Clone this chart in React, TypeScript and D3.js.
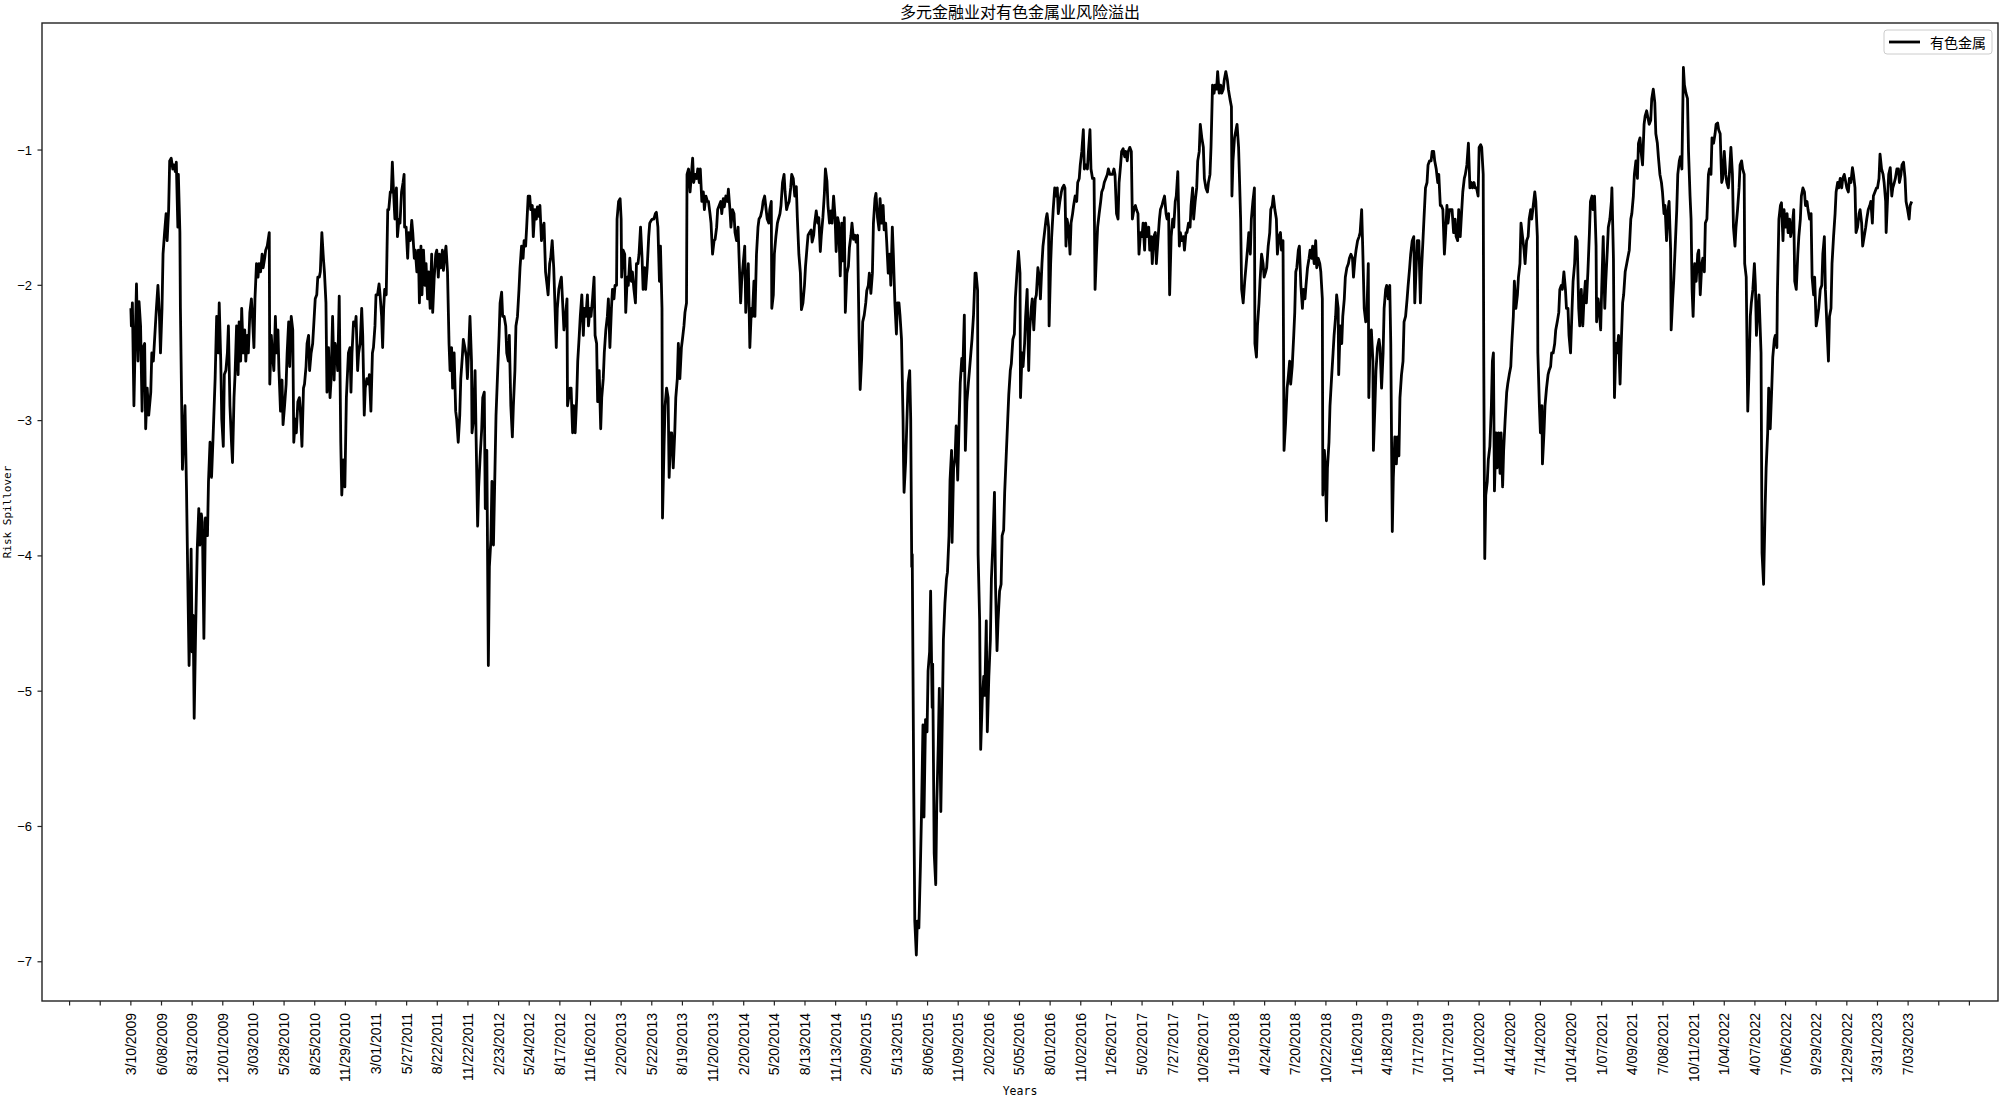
import React from "react";
import * as d3 from "d3";

// ---- tick labels (every 60 trading days, starting at day 0) ----
const dateLabels = [
  "3/10/2009","6/08/2009","8/31/2009","12/01/2009","3/03/2010","5/28/2010","8/25/2010","11/29/2010",
  "3/01/2011","5/27/2011","8/22/2011","11/22/2011","2/23/2012","5/24/2012","8/17/2012","11/16/2012",
  "2/20/2013","5/22/2013","8/19/2013","11/20/2013","2/20/2014","5/20/2014","8/13/2014","11/13/2014",
  "2/09/2015","5/13/2015","8/06/2015","11/09/2015","2/02/2016","5/05/2016","8/01/2016","11/02/2016",
  "1/26/2017","5/02/2017","7/27/2017","10/26/2017","1/19/2018","4/24/2018","7/20/2018","10/22/2018",
  "1/16/2019","4/18/2019","7/17/2019","10/17/2019","1/10/2020","4/14/2020","7/14/2020","10/14/2020",
  "1/07/2021","4/09/2021","7/08/2021","10/11/2021","1/04/2022","4/07/2022","7/06/2022","9/29/2022",
  "12/29/2022","3/31/2023","7/03/2023"
];
const yTicks = [-1, -2, -3, -4, -5, -6, -7];

// ---- series: [trading-day index, risk spillover] ----
const seg2009 = [[0,-2.17],[1,-2.30],[3,-2.13],[6,-2.89],[8,-2.50],[11,-1.99],[14,-2.56],[16,-2.12],[19,-2.30],[22,-2.93],[24,-2.46],[27,-2.43],[29,-3.06],[32,-2.76],[35,-2.96],[39,-2.79],[41,-2.50],[44,-2.56],[48,-2.30],[50,-2.17],[53,-2.00],[56,-2.23],[58,-2.50],[61,-2.17],[63,-1.77],[66,-1.61],[69,-1.47],[71,-1.67],[74,-1.44],[76,-1.08],[79,-1.06],[82,-1.14],[84,-1.11],[87,-1.16],[89,-1.09],[92,-1.57],[93,-1.18],[96,-1.61],[97,-2.17],[100,-3.03],[101,-3.36],[104,-3.09],[106,-2.89],[109,-3.52],[112,-4.31],[114,-4.81],[116,-4.44],[118,-3.95],[120,-4.71],[122,-4.44],[124,-5.20],[127,-4.51],[130,-3.95],[133,-3.65],[135,-3.92],[138,-3.69],[140,-3.75],[143,-4.61],[146,-3.72],[150,-3.85],[152,-3.45],[155,-3.16],[158,-3.42],[161,-3.12],[165,-2.69],[168,-2.23],[171,-2.50],[173,-2.13],[176,-2.56],[178,-2.99],[181,-3.19],[183,-2.66],[186,-2.63],[189,-2.50],[191,-2.30],[194,-2.89],[197,-3.16],[199,-3.31],[202,-2.83],[204,-2.66],[207,-2.30],[210,-2.66],[212,-2.27],[215,-2.56],[217,-2.17],[220,-2.50],[223,-2.33],[225,-2.56],[228,-2.37],[230,-2.50],[233,-2.20],[236,-2.10],[238,-2.23],[241,-2.46],[243,-2.10],[246,-1.84],[249,-1.94],[251,-1.84],[254,-1.90],[257,-1.77],[259,-1.87],[262,-1.80],[264,-1.74],[267,-1.71],[271,-1.61],[272,-2.73],[275,-2.37],[277,-2.50],[280,-2.63],[283,-2.23],[285,-2.50],[288,-2.33],[290,-2.63],[293,-2.93],[296,-2.70],[298,-3.03],[301,-2.89],[304,-2.73],[306,-2.50],[309,-2.27],[311,-2.60],[314,-2.23],[317,-2.33],[319,-3.16],[322,-2.99],[324,-3.09],[327,-2.86],[330,-2.83],[332,-2.93],[335,-3.19],[338,-2.76],[340,-2.73],[343,-2.60],[345,-2.43],[348,-2.37],[350,-2.63],[353,-2.50],[356,-2.43],[358,-2.30],[361,-2.10],[364,-2.07],[366,-1.94],[369,-1.94],[371,-1.90],[374,-1.61],[377,-1.80],[379,-1.90],[382,-2.13],[384,-2.79],[387,-2.46],[390,-2.83],[392,-2.70],[395,-2.23],[398,-2.70],[400,-2.43],[403,-2.50],[405,-2.63],[408,-2.08],[411,-3.16],[413,-3.55],[416,-3.29],[419,-3.49]];

const seg2011 = [[422,-2.83],[426,-2.50],[429,-2.46],[431,-2.79],[433,-2.50],[436,-2.27],[439,-2.30],[441,-2.23],[444,-2.63],[446,-2.50],[449,-2.43],[452,-2.17],[454,-2.37],[457,-2.96],[459,-2.76],[462,-2.69],[465,-2.73],[467,-2.66],[470,-2.93],[473,-2.50],[475,-2.46],[478,-2.30],[480,-2.07],[483,-2.07],[486,-1.99],[488,-2.07],[491,-2.23],[493,-2.46],[495,-2.17],[497,-2.03],[500,-2.07],[503,-1.44],[505,-1.44],[508,-1.31],[510,-1.31],[512,-1.09],[514,-1.28],[517,-1.51],[520,-1.28],[522,-1.64],[525,-1.51],[527,-1.54],[530,-1.31],[533,-1.24],[535,-1.18],[536,-1.57],[539,-1.57],[542,-1.80],[544,-1.61],[547,-1.67],[550,-1.52],[552,-1.61],[555,-1.80],[557,-1.74],[560,-1.90],[563,-1.74],[565,-2.13],[568,-1.71],[570,-2.07],[573,-1.74],[576,-2.00],[578,-1.84],[581,-2.10],[583,-1.90],[586,-2.17],[589,-1.77],[591,-2.20],[594,-1.94],[597,-1.77],[599,-1.74],[602,-1.94],[604,-1.77],[607,-1.87],[610,-1.74],[612,-1.89],[615,-1.77],[617,-1.71],[620,-1.90],[623,-2.43],[625,-2.63],[628,-2.46],[630,-2.76],[633,-2.50],[636,-2.93],[638,-2.99],[641,-3.16],[644,-2.96],[646,-2.69],[649,-2.53],[651,-2.40],[654,-2.46],[657,-2.53],[659,-2.69],[662,-2.43],[664,-2.23],[667,-2.56],[668,-3.09],[671,-2.99],[674,-2.63],[676,-3.12],[679,-3.78],[681,-3.49],[684,-3.26],[687,-3.06],[689,-2.83],[692,-2.79],[694,-3.65],[697,-3.22],[700,-4.81],[702,-4.08],[705,-3.88],[707,-3.45],[710,-3.92],[713,-3.35],[715,-2.96],[718,-2.66],[721,-2.37],[723,-2.13],[726,-2.05],[728,-2.23],[731,-2.23],[734,-2.30],[736,-2.50],[739,-2.56],[741,-2.37],[744,-2.89],[747,-3.12],[749,-2.89],[752,-2.63],[754,-2.30],[757,-2.23],[760,-2.03],[762,-1.87],[765,-1.71],[768,-1.80],[770,-1.67],[773,-1.71],[775,-1.57],[778,-1.34],[781,-1.34],[783,-1.44],[786,-1.41],[788,-1.64],[791,-1.44],[794,-1.51],[796,-1.42],[799,-1.49],[801,-1.41],[804,-1.67],[807,-1.57],[809,-1.54],[812,-1.90],[815,-2.00],[817,-2.07],[820,-1.84],[822,-1.80],[825,-1.67],[828,-1.87],[830,-2.10],[833,-2.46],[835,-2.17],[838,-2.03],[841,-1.97],[843,-1.94],[846,-2.17],[848,-2.33],[851,-2.23],[854,-2.10],[855,-2.89],[860,-2.76]];

const seg2013 = [[862,-2.76],[865,-3.09],[867,-2.89],[870,-3.09],[873,-2.83],[875,-2.56],[878,-2.37],[880,-2.23],[883,-2.07],[886,-2.37],[888,-2.17],[891,-2.23],[894,-2.07],[896,-2.30],[899,-2.17],[901,-2.23],[904,-2.10],[907,-1.94],[909,-2.37],[912,-2.43],[914,-2.86],[917,-2.63],[920,-3.06],[922,-2.83],[925,-2.69],[927,-2.50],[930,-2.33],[933,-2.23],[935,-2.10],[938,-2.46],[941,-2.17],[943,-2.03],[946,-2.10],[948,-2.00],[951,-2.00],[952,-1.51],[955,-1.38],[958,-1.36],[960,-1.51],[961,-1.94],[964,-1.74],[967,-1.77],[969,-2.20],[972,-1.94],[974,-2.00],[977,-1.80],[980,-1.97],[982,-1.90],[985,-2.03],[988,-2.13],[990,-1.84],[993,-1.84],[995,-1.77],[998,-1.57],[1001,-1.80],[1003,-2.03],[1006,-1.87],[1008,-2.03],[1011,-1.87],[1014,-1.64],[1016,-1.54],[1019,-1.52],[1021,-1.51],[1024,-1.51],[1027,-1.47],[1029,-1.46],[1032,-1.57],[1035,-1.97],[1037,-1.71],[1040,-2.17],[1041,-3.72],[1044,-3.19],[1046,-2.89],[1049,-2.76],[1052,-2.83],[1054,-3.42],[1057,-3.09],[1059,-3.09],[1062,-3.35],[1065,-3.09],[1067,-2.83],[1070,-2.69],[1072,-2.43],[1075,-2.69],[1078,-2.46],[1080,-2.40],[1083,-2.30],[1085,-2.20],[1088,-2.13],[1089,-1.18],[1092,-1.14],[1095,-1.31],[1097,-1.21],[1100,-1.06],[1102,-1.24],[1105,-1.18],[1108,-1.21],[1110,-1.14],[1113,-1.24],[1115,-1.14],[1118,-1.38],[1121,-1.31],[1123,-1.44],[1126,-1.34],[1129,-1.38],[1131,-1.38],[1134,-1.47],[1136,-1.54],[1139,-1.77],[1142,-1.67],[1144,-1.66],[1147,-1.57],[1149,-1.44],[1152,-1.41],[1155,-1.38],[1157,-1.47],[1160,-1.36],[1162,-1.42],[1165,-1.34],[1168,-1.38],[1170,-1.29],[1173,-1.44],[1175,-1.57],[1178,-1.44],[1181,-1.47],[1183,-1.61],[1186,-1.67],[1189,-1.57],[1191,-1.80],[1194,-2.13],[1196,-1.97],[1199,-1.84],[1202,-1.71],[1204,-2.20],[1207,-1.97],[1209,-1.84],[1212,-2.46],[1215,-2.17],[1217,-2.23],[1220,-1.97],[1222,-2.23],[1225,-1.77],[1228,-1.57],[1230,-1.51],[1233,-1.49],[1236,-1.44],[1238,-1.38],[1241,-1.34],[1243,-1.41],[1246,-1.51],[1249,-1.54],[1251,-1.44],[1254,-1.38],[1255,-2.17],[1258,-2.07],[1260,-1.77],[1263,-1.64],[1266,-1.54],[1268,-1.51],[1271,-1.47],[1273,-1.41],[1276,-1.24],[1279,-1.18],[1281,-1.31],[1284,-1.44],[1286,-1.41],[1289,-1.38],[1292,-1.28],[1294,-1.18],[1297,-1.21],[1300,-1.34]];

const seg2015 = [[1303,-1.27],[1305,-1.50],[1308,-1.77],[1311,-1.91],[1313,-2.18],[1316,-2.13],[1319,-2.00],[1321,-1.86],[1324,-1.72],[1326,-1.63],[1329,-1.61],[1332,-1.59],[1334,-1.68],[1337,-1.63],[1339,-1.54],[1342,-1.45],[1345,-1.54],[1347,-1.50],[1350,-1.75],[1352,-1.63],[1355,-1.50],[1358,-1.32],[1360,-1.14],[1363,-1.23],[1365,-1.41],[1368,-1.54],[1371,-1.45],[1373,-1.54],[1376,-1.34],[1379,-1.50],[1381,-1.75],[1384,-1.50],[1386,-1.54],[1389,-1.93],[1392,-1.54],[1394,-1.82],[1397,-1.50],[1399,-2.20],[1402,-1.91],[1405,-1.86],[1407,-1.72],[1410,-1.63],[1412,-1.54],[1415,-1.66],[1418,-1.63],[1420,-1.68],[1423,-1.63],[1426,-2.40],[1428,-2.77],[1431,-2.54],[1433,-2.27],[1436,-2.22],[1439,-2.13],[1441,-2.04],[1444,-2.00],[1446,-1.91],[1449,-2.06],[1452,-1.91],[1454,-1.54],[1457,-1.36],[1459,-1.32],[1462,-1.50],[1465,-1.59],[1467,-1.36],[1470,-1.54],[1473,-1.41],[1475,-1.59],[1478,-1.54],[1480,-1.68],[1483,-1.91],[1486,-1.77],[1488,-2.00],[1491,-1.57],[1493,-1.77],[1496,-2.13],[1499,-2.36],[1501,-2.13],[1504,-2.13],[1506,-2.22],[1509,-2.40],[1512,-2.99],[1513,-3.31],[1514,-3.53],[1517,-3.31],[1520,-2.95],[1522,-2.72],[1525,-2.63],[1527,-2.99],[1529,-4.08],[1530,-3.99],[1533,-5.75],[1535,-6.70],[1538,-6.95],[1540,-6.70],[1543,-6.75],[1546,-6.29],[1548,-5.93],[1551,-5.25],[1553,-5.93],[1556,-5.21],[1559,-5.30],[1561,-4.85],[1564,-4.71],[1566,-4.26],[1569,-5.12],[1570,-4.80],[1573,-6.20],[1576,-6.43],[1578,-5.84],[1581,-5.39],[1583,-4.98],[1586,-5.89],[1589,-5.16],[1591,-4.62],[1594,-4.35],[1597,-4.17],[1599,-4.12],[1602,-3.85],[1604,-3.44],[1607,-3.22],[1608,-3.90],[1611,-3.35],[1614,-3.26],[1616,-3.04],[1619,-3.44],[1621,-3.13],[1624,-2.72],[1627,-2.54],[1629,-2.63],[1632,-2.22],[1634,-3.22],[1637,-2.86],[1640,-2.72],[1642,-2.63],[1645,-2.49],[1647,-2.40],[1650,-2.22],[1653,-1.91],[1655,-1.91],[1658,-2.04],[1659,-3.99],[1662,-4.48],[1664,-5.43],[1667,-5.07],[1670,-4.89],[1672,-5.03],[1675,-4.48],[1677,-5.30],[1680,-4.89],[1683,-4.62],[1685,-4.17],[1688,-3.90],[1691,-3.53],[1693,-4.21],[1696,-4.70],[1698,-4.48],[1701,-4.26],[1704,-4.21],[1706,-3.85],[1709,-3.81],[1711,-3.53],[1714,-3.26],[1717,-2.99],[1719,-2.81],[1722,-2.63],[1724,-2.58],[1727,-2.40],[1730,-2.36],[1732,-2.09],[1735,-1.91],[1738,-1.75],[1741,-1.91]];

const seg2016 = [[1742,-2.83],[1745,-2.50],[1747,-2.60],[1750,-2.43],[1752,-2.23],[1755,-2.03],[1758,-2.63],[1760,-2.33],[1763,-2.17],[1765,-2.10],[1768,-2.33],[1771,-2.10],[1773,-2.07],[1776,-1.87],[1779,-1.94],[1781,-2.10],[1784,-1.84],[1786,-1.71],[1789,-1.61],[1792,-1.51],[1794,-1.47],[1797,-1.57],[1798,-2.30],[1801,-1.84],[1803,-1.64],[1806,-1.44],[1809,-1.28],[1811,-1.34],[1814,-1.28],[1816,-1.47],[1819,-1.38],[1822,-1.31],[1824,-1.28],[1827,-1.26],[1829,-1.28],[1831,-1.71],[1833,-1.51],[1836,-1.57],[1839,-1.77],[1841,-1.54],[1844,-1.47],[1846,-1.41],[1849,-1.34],[1852,-1.38],[1854,-1.24],[1857,-1.21],[1859,-1.11],[1862,-1.01],[1865,-0.85],[1867,-1.14],[1870,-1.11],[1873,-1.14],[1875,-1.01],[1878,-0.85],[1880,-1.14],[1883,-1.21],[1886,-1.21],[1888,-2.03],[1891,-1.74],[1893,-1.57],[1896,-1.47],[1899,-1.38],[1901,-1.31],[1904,-1.28],[1906,-1.24],[1909,-1.21],[1912,-1.18],[1914,-1.14],[1917,-1.18],[1920,-1.18],[1922,-1.18],[1925,-1.14],[1927,-1.18],[1930,-1.47],[1933,-1.51],[1935,-1.24],[1938,-1.11],[1940,-1.01],[1943,-0.99],[1946,-1.05],[1948,-1.01],[1951,-1.08],[1953,-1.01],[1956,-0.98],[1959,-1.01],[1961,-1.51],[1964,-1.44],[1967,-1.41],[1969,-1.44],[1972,-1.47],[1974,-1.77],[1977,-1.61],[1980,-1.64],[1982,-1.54],[1985,-1.74],[1987,-1.54],[1990,-1.64],[1993,-1.57],[1995,-1.74],[1998,-1.64],[2000,-1.84],[2003,-1.64],[2006,-1.61],[2008,-1.84],[2011,-1.67],[2014,-1.51],[2016,-1.44],[2019,-1.41],[2021,-1.38],[2024,-1.34],[2027,-1.47],[2029,-1.51],[2032,-1.47],[2034,-2.07],[2037,-1.64],[2040,-1.51],[2042,-1.57],[2045,-1.38],[2047,-1.34],[2050,-1.16],[2053,-1.71],[2055,-1.61],[2058,-1.67],[2061,-1.64],[2063,-1.74],[2066,-1.61],[2068,-1.61],[2071,-1.54],[2074,-1.57],[2076,-1.41],[2079,-1.28],[2081,-1.51],[2084,-1.38],[2087,-1.28],[2089,-1.08],[2092,-1.01],[2094,-0.81],[2097,-0.91],[2100,-0.98],[2102,-1.21],[2105,-1.28],[2108,-1.31],[2110,-1.24],[2113,-1.18],[2115,-0.98],[2118,-0.52],[2121,-0.58],[2123,-0.52],[2126,-0.55],[2128,-0.42],[2131,-0.58],[2134,-0.52],[2136,-0.58],[2139,-0.55],[2141,-0.48],[2144,-0.42],[2147,-0.48],[2149,-0.55],[2152,-0.62],[2155,-0.68],[2156,-1.34],[2158,-1.08],[2161,-0.91],[2164,-0.85],[2166,-0.81],[2169,-0.98],[2171,-1.24],[2173,-1.51],[2175,-2.03],[2178,-2.13],[2181,-1.97]];

const seg2018 = [[2184,-1.84],[2187,-1.71],[2189,-1.61],[2192,-1.77],[2194,-1.51],[2197,-1.38],[2200,-1.28],[2201,-2.43],[2204,-2.53],[2206,-2.30],[2209,-2.13],[2211,-1.97],[2214,-1.77],[2217,-1.84],[2219,-1.94],[2222,-1.90],[2224,-1.87],[2227,-1.71],[2230,-1.61],[2232,-1.44],[2235,-1.41],[2237,-1.34],[2240,-1.44],[2243,-1.51],[2245,-1.77],[2248,-1.64],[2251,-1.61],[2253,-1.74],[2256,-1.67],[2258,-3.22],[2261,-3.02],[2264,-2.76],[2266,-2.69],[2269,-2.56],[2271,-2.73],[2274,-2.60],[2277,-2.37],[2279,-2.20],[2281,-1.90],[2283,-1.87],[2286,-1.74],[2288,-1.71],[2291,-2.00],[2294,-2.17],[2296,-2.03],[2299,-2.10],[2301,-2.00],[2304,-1.87],[2307,-1.80],[2309,-1.74],[2312,-1.80],[2314,-1.71],[2317,-1.84],[2320,-1.67],[2322,-1.87],[2325,-1.80],[2328,-1.84],[2330,-1.90],[2333,-2.10],[2334,-3.55],[2337,-3.22],[2339,-3.35],[2341,-3.74],[2343,-3.35],[2346,-3.16],[2348,-2.89],[2351,-2.69],[2354,-2.50],[2356,-2.37],[2359,-2.23],[2361,-2.07],[2364,-2.17],[2365,-2.66],[2368,-2.30],[2371,-2.43],[2373,-2.23],[2376,-2.10],[2378,-1.94],[2381,-1.87],[2384,-1.84],[2386,-1.80],[2389,-1.77],[2392,-1.80],[2394,-1.94],[2397,-1.80],[2399,-1.74],[2402,-1.67],[2405,-1.64],[2407,-1.61],[2410,-1.44],[2412,-1.71],[2415,-2.17],[2418,-2.27],[2420,-2.23],[2423,-1.84],[2424,-2.83],[2427,-2.37],[2429,-2.33],[2432,-2.56],[2433,-3.22],[2436,-2.89],[2438,-2.63],[2441,-2.46],[2444,-2.40],[2446,-2.46],[2449,-2.76],[2452,-2.50],[2454,-2.17],[2457,-2.03],[2459,-2.00],[2462,-2.10],[2465,-2.00],[2467,-2.43],[2470,-3.82],[2472,-3.42],[2475,-3.12],[2478,-3.32],[2480,-3.12],[2483,-3.26],[2485,-2.83],[2488,-2.66],[2491,-2.56],[2493,-2.27],[2496,-2.23],[2499,-2.10],[2501,-2.00],[2504,-1.87],[2506,-1.77],[2509,-1.67],[2512,-1.64],[2514,-2.13],[2517,-1.84],[2519,-1.67],[2522,-1.67],[2525,-2.13],[2527,-1.90],[2530,-1.67],[2532,-1.51],[2535,-1.28],[2538,-1.24],[2540,-1.11],[2543,-1.08],[2546,-1.08],[2548,-1.01],[2551,-1.01],[2553,-1.08],[2556,-1.14],[2559,-1.24],[2561,-1.18],[2564,-1.41],[2566,-1.41],[2569,-1.44],[2572,-1.77],[2574,-1.64],[2577,-1.41],[2579,-1.54],[2582,-1.44],[2585,-1.44],[2587,-1.44],[2590,-1.61],[2593,-1.51],[2595,-1.64],[2598,-1.67],[2600,-1.44],[2603,-1.64],[2606,-1.44],[2608,-1.31],[2611,-1.21],[2613,-1.18],[2616,-1.11],[2619,-0.95],[2622,-1.28]];

const seg2020 = [[2625,-1.24],[2627,-1.28],[2630,-1.24],[2632,-1.28],[2635,-1.28],[2638,-1.34],[2640,-0.98],[2643,-0.96],[2645,-0.98],[2648,-1.18],[2649,-2.50],[2651,-4.02],[2653,-3.55],[2656,-3.45],[2658,-3.29],[2661,-3.19],[2664,-2.89],[2666,-2.56],[2668,-2.50],[2670,-3.52],[2673,-3.09],[2675,-3.35],[2678,-3.09],[2681,-3.39],[2683,-3.09],[2686,-3.49],[2688,-3.22],[2691,-2.99],[2694,-2.79],[2696,-2.73],[2699,-2.66],[2702,-2.60],[2704,-2.43],[2707,-2.23],[2709,-1.97],[2712,-2.17],[2715,-2.07],[2717,-1.94],[2720,-1.84],[2722,-1.54],[2725,-1.64],[2728,-1.74],[2730,-1.84],[2733,-1.67],[2736,-1.64],[2738,-1.51],[2741,-1.44],[2743,-1.51],[2746,-1.41],[2749,-1.31],[2751,-1.38],[2754,-1.64],[2755,-2.50],[2758,-2.89],[2760,-3.09],[2763,-2.89],[2764,-3.32],[2767,-3.09],[2769,-2.89],[2772,-2.76],[2775,-2.66],[2777,-2.63],[2780,-2.60],[2782,-2.50],[2785,-2.50],[2788,-2.43],[2790,-2.33],[2793,-2.27],[2796,-2.20],[2798,-2.03],[2801,-2.00],[2803,-2.03],[2806,-1.90],[2809,-2.03],[2811,-2.17],[2814,-2.17],[2816,-2.37],[2819,-2.50],[2822,-2.17],[2824,-1.97],[2827,-1.84],[2829,-1.64],[2832,-1.67],[2835,-2.17],[2837,-2.30],[2840,-2.03],[2843,-2.30],[2845,-2.13],[2848,-1.97],[2850,-2.13],[2853,-1.90],[2856,-1.61],[2858,-1.38],[2861,-1.34],[2863,-1.44],[2866,-1.34],[2869,-1.71],[2870,-2.27],[2873,-2.10],[2875,-2.17],[2878,-2.33],[2880,-2.03],[2883,-1.64],[2886,-2.17],[2888,-1.97],[2891,-1.74],[2893,-1.57],[2896,-1.51],[2899,-1.38],[2900,-1.28],[2903,-1.80],[2905,-2.83],[2908,-2.43],[2910,-2.50],[2913,-2.37],[2916,-2.73],[2918,-2.46],[2921,-2.13],[2923,-2.07],[2926,-1.90],[2929,-1.84],[2931,-1.80],[2934,-1.74],[2937,-1.51],[2939,-1.47],[2942,-1.34],[2944,-1.18],[2947,-1.08],[2950,-1.21],[2952,-0.95],[2955,-0.91],[2957,-1.01],[2960,-1.11],[2963,-0.81],[2965,-0.75],[2968,-0.71],[2970,-0.75],[2973,-0.81],[2976,-0.78],[2978,-0.62],[2981,-0.55],[2984,-0.65],[2986,-0.88],[2989,-0.95],[2991,-1.05],[2994,-1.18],[2997,-1.24],[2999,-1.31],[3002,-1.47],[3004,-1.41],[3007,-1.67],[3010,-1.44],[3012,-1.38],[3015,-1.74],[3016,-2.33],[3019,-2.10],[3021,-1.97],[3024,-1.71],[3027,-1.44],[3029,-1.18],[3032,-1.08],[3034,-1.05],[3037,-1.14],[3040,-0.39],[3042,-0.52],[3045,-0.58],[3048,-0.62],[3050,-1.01],[3053,-1.34],[3055,-1.51],[3057,-2.03],[3059,-2.23],[3062,-1.84]];

const seg2022 = [[3065,-1.97],[3068,-1.77],[3070,-1.74],[3073,-2.07],[3076,-1.84],[3078,-1.80],[3081,-1.90],[3083,-1.54],[3086,-1.51],[3089,-1.18],[3091,-1.14],[3094,-1.18],[3096,-0.91],[3099,-0.95],[3102,-0.88],[3104,-0.81],[3107,-0.80],[3109,-0.85],[3112,-0.88],[3115,-1.24],[3117,-1.21],[3120,-1.01],[3123,-1.18],[3125,-1.24],[3128,-1.28],[3130,-1.18],[3133,-0.98],[3136,-1.18],[3138,-1.57],[3141,-1.71],[3143,-1.57],[3146,-1.44],[3149,-1.28],[3151,-1.11],[3154,-1.08],[3156,-1.14],[3159,-1.18],[3160,-1.84],[3163,-1.94],[3166,-2.93],[3168,-2.69],[3171,-2.23],[3173,-2.13],[3176,-2.03],[3179,-1.84],[3181,-2.00],[3183,-2.37],[3185,-2.23],[3188,-2.07],[3189,-2.17],[3192,-2.50],[3194,-3.98],[3197,-4.21],[3200,-3.65],[3202,-3.35],[3205,-3.09],[3207,-2.76],[3210,-3.06],[3213,-2.76],[3215,-2.53],[3218,-2.40],[3220,-2.37],[3223,-2.46],[3224,-2.07],[3227,-1.51],[3230,-1.41],[3232,-1.39],[3235,-1.67],[3237,-1.44],[3240,-1.57],[3243,-1.47],[3245,-1.61],[3248,-1.51],[3250,-1.64],[3253,-1.57],[3256,-1.44],[3258,-1.97],[3261,-2.03],[3264,-1.77],[3266,-1.64],[3269,-1.51],[3271,-1.34],[3274,-1.28],[3277,-1.31],[3279,-1.41],[3282,-1.38],[3284,-1.44],[3287,-1.51],[3290,-1.47],[3292,-1.94],[3295,-2.07],[3297,-1.94],[3300,-2.30],[3303,-2.23],[3305,-2.17],[3308,-2.03],[3311,-2.00],[3313,-1.77],[3316,-1.64],[3318,-2.03],[3321,-2.30],[3324,-2.56],[3326,-2.23],[3329,-2.17],[3331,-1.84],[3334,-1.64],[3337,-1.47],[3339,-1.31],[3342,-1.24],[3344,-1.28],[3347,-1.21],[3350,-1.28],[3352,-1.21],[3355,-1.18],[3358,-1.24],[3360,-1.28],[3363,-1.31],[3365,-1.21],[3368,-1.24],[3371,-1.13],[3373,-1.18],[3376,-1.28],[3378,-1.61],[3381,-1.57],[3384,-1.47],[3386,-1.44],[3389,-1.54],[3391,-1.71],[3394,-1.64],[3397,-1.57],[3399,-1.51],[3402,-1.44],[3405,-1.41],[3407,-1.38],[3410,-1.54],[3412,-1.34],[3415,-1.31],[3418,-1.28],[3420,-1.28],[3423,-1.21],[3425,-1.03],[3428,-1.14],[3431,-1.18],[3433,-1.24],[3436,-1.38],[3437,-1.61],[3440,-1.34],[3442,-1.18],[3445,-1.13],[3448,-1.34],[3450,-1.28],[3453,-1.24],[3455,-1.21],[3458,-1.14],[3461,-1.14],[3463,-1.24],[3466,-1.18],[3468,-1.11],[3471,-1.09],[3474,-1.21],[3476,-1.38],[3479,-1.44],[3482,-1.51],[3484,-1.41],[3487,-1.38]];

const series = [...seg2009, ...seg2011, ...seg2013, ...seg2015, ...seg2016, ...seg2018, ...seg2020, ...seg2022] as [number, number][];

const W = 2000, H = 1098;
const M = { left: 42, right: 1998, top: 23, bottom: 1001 };
const X_DOMAIN: [number, number] = [-174, 3656];
const Y_DOMAIN: [number, number] = [-7.29, -0.061];
const TICK_STEP = 60;

export default function App() {
  const x = d3.scaleLinear().domain(X_DOMAIN).range([M.left, M.right]);
  const y = d3.scaleLinear().domain(Y_DOMAIN).range([M.bottom, M.top]);
  const line = d3.line<[number, number]>().x(d => x(d[0])).y(d => y(d[1]));
  const xTicks = d3.range(-2 * TICK_STEP, 3600 + 1, TICK_STEP);
  const tickFont = "'Liberation Sans', Arial, sans-serif";
  const cjk = "'Noto Sans CJK SC', 'Noto Sans', sans-serif";
  const mono = "'DejaVu Sans Mono', monospace";
  const cx = (M.left + M.right) / 2;

  return (
    <svg width={W} height={H} style={{ position: "absolute", left: 0, top: 0, background: "#fff" }}>
      <rect x={0} y={0} width={W} height={H} fill="#fff" />
      <text x={cx} y={18} textAnchor="middle" fontFamily={cjk} fontSize={16} fill="#000">
        多元金融业对有色金属业风险溢出
      </text>
      <path d={line(series) || ""} fill="none" stroke="#000" strokeWidth={2.8} strokeLinejoin="round" />
      <rect x={M.left} y={M.top} width={M.right - M.left} height={M.bottom - M.top}
        fill="none" stroke="#222" strokeWidth={1.4} />
      {yTicks.map(t => (
        <g key={"y" + t}>
          <line x1={M.left - 4.5} x2={M.left} y1={y(t)} y2={y(t)} stroke="#222" strokeWidth={1.2} />
          <text x={M.left - 10} y={y(t)} textAnchor="end" dominantBaseline="central"
            fontFamily={tickFont} fontSize={13} fill="#000">{"\u2212" + Math.abs(t)}</text>
        </g>
      ))}
      {xTicks.map(t => {
        const k = t / TICK_STEP;
        const label = k >= 0 && k < dateLabels.length ? dateLabels[k] : "";
        return (
          <g key={"x" + t}>
            <line x1={x(t)} x2={x(t)} y1={M.bottom} y2={M.bottom + 4.5} stroke="#222" strokeWidth={1.2} />
            {label && (
              <text transform={`translate(${x(t)},${M.bottom + 12}) rotate(-90)`} textAnchor="end"
                dominantBaseline="central" fontFamily={tickFont} fontSize={14} fill="#000">{label}</text>
            )}
          </g>
        );
      })}
      <text x={cx} y={1095} textAnchor="middle" fontFamily={mono} fontSize={11.5} fill="#000">Years</text>
      <text transform={`translate(11,${(M.top + M.bottom) / 2}) rotate(-90)`} textAnchor="middle"
        fontFamily={mono} fontSize={11} fill="#000">Risk Spillover</text>
      <g>
        <rect x={1884} y={30} width={108} height={24} rx={3} fill="#fff" fillOpacity={0.8}
          stroke="#cccccc" strokeWidth={1} />
        <line x1={1889} x2={1920} y1={42} y2={42} stroke="#000" strokeWidth={2.8} />
        <text x={1930} y={42} dominantBaseline="central" fontFamily={cjk} fontSize={14} fill="#000">有色金属</text>
      </g>
    </svg>
  );
}
